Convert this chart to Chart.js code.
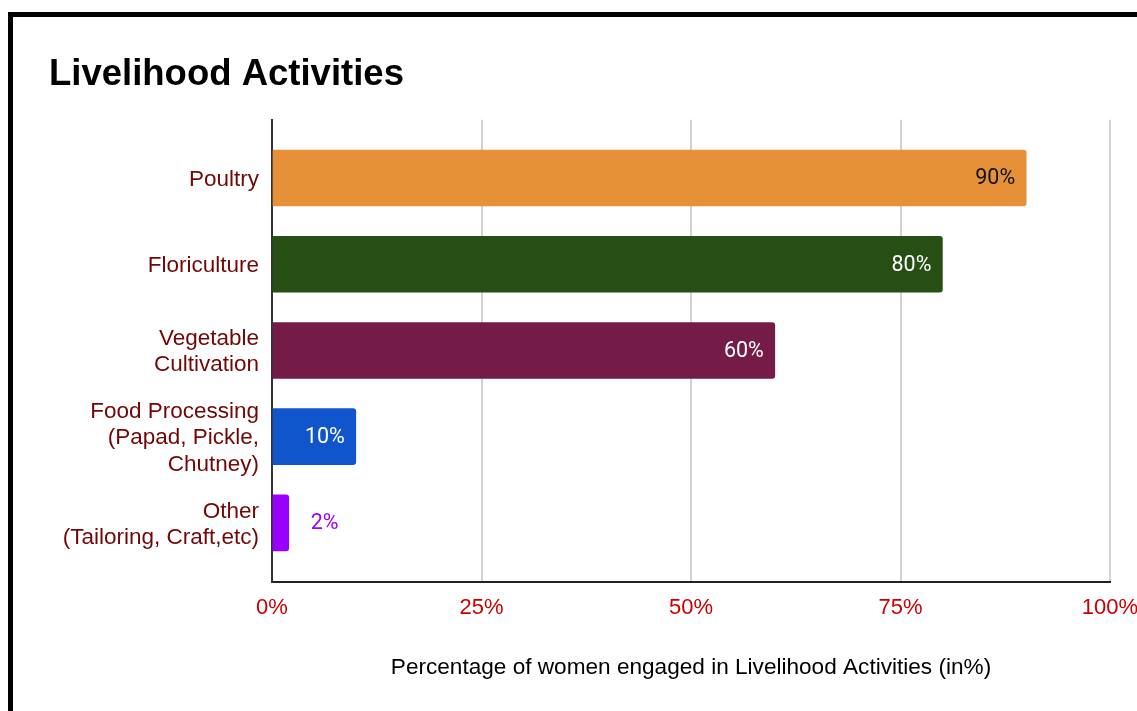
<!DOCTYPE html>
<html>
<head>
<meta charset="utf-8">
<title>Livelihood Activities</title>
<script src="https://cdn.jsdelivr.net/npm/chart.js@4.4.1/dist/chart.umd.min.js"></script>
<style>
  html, body { margin: 0; padding: 0; background: #ffffff; overflow: hidden; }
  #frame {
    position: absolute; left: 8px; top: 12px; right: 0; bottom: 0;
    border-top: 5px solid #000000; border-left: 5px solid #000000;
  }
  #chart { position: absolute; left: 0; top: 0; }
</style>
</head>
<body>
<div id="frame"></div>
<canvas id="chart" width="1137" height="711"></canvas>
<script>
// Activities, top to bottom
const categories = [
  ['Poultry'],
  ['Floriculture'],
  ['Vegetable', 'Cultivation'],
  ['Food Processing', '(Papad, Pickle,', 'Chutney)'],
  ['Other', '(Tailoring, Craft,etc)']
];
// Share of women engaged in each activity (%)
const shares = [90, 80, 60, 10, 2];
const valueLabels = ['90%', '80%', '60%', '10%', '2%'];
const percentTicks = [0, 25, 50, 75, 100];

const barColors = ['#e69138', '#274e13', '#741b47', '#1155cc', '#9900ff'];
const labelColors = ['#111111', '#ffffff', '#ffffff', '#ffffff', '#9900ff'];

// Value labels: inside the bar end when they fit, otherwise just past it
const valueLabelPlugin = {
  id: 'valueLabels',
  afterDatasetsDraw(chart) {
    const ctx = chart.ctx;
    const meta = chart.getDatasetMeta(0);
    ctx.save();
    ctx.font = '21.5px Roboto, "Open Sans", sans-serif';
    ctx.textBaseline = 'middle';
    meta.data.forEach((bar, i) => {
      const text = valueLabels[i];
      const w = ctx.measureText(text).width;
      const barLen = bar.x - bar.base;
      ctx.fillStyle = labelColors[i];
      if (barLen > w + 24) {
        ctx.textAlign = 'right';
        ctx.fillText(text, bar.x - 11, bar.y + 1);
      } else {
        ctx.textAlign = 'left';
        ctx.fillText(text, bar.x + 22, bar.y + 1);
      }
    });
    ctx.restore();
  }
};

new Chart(document.getElementById('chart'), {
  type: 'bar',
  data: {
    datasets: [{
      data: shares.map((v, i) => ({ x: v, y: i })),
      backgroundColor: barColors,
      borderWidth: 0,
      borderRadius: 3,
      barThickness: 56
    }]
  },
  options: {
    indexAxis: 'y',
    responsive: false,
    animation: false,
    layout: { padding: { left: 49, right: 27, top: 0, bottom: 0 } },
    plugins: {
      legend: { display: false },
      tooltip: { enabled: false },
      title: {
        display: true,
        text: 'Livelihood Activities',
        align: 'start',
        color: '#000000',
        font: { family: '"Liberation Sans", Arial, sans-serif', size: 36.5, weight: 'bold', lineHeight: 1.2 },
        padding: { top: 53, bottom: 23 }
      }
    },
    scales: {
      x: {
        type: 'linear',
        min: 0,
        max: 100,
        afterBuildTicks(scale) {
          scale.ticks = percentTicks.map(v => ({ value: v }));
        },
        afterFit(scale) {
          scale.height = 711 - 582;
          scale.paddingLeft = 0;
          scale.paddingRight = 0;
        },
        grid: { color: '#d2d2d2', lineWidth: 2, drawTicks: false },
        border: { display: true, color: '#222222', width: 2 },
        ticks: {
          color: '#cc0000',
          padding: 13,
          maxRotation: 0,
          font: { family: '"Liberation Sans", Arial, sans-serif', size: 22, lineHeight: 1.2 },
          callback: v => v + '%'
        },
        title: {
          display: true,
          text: 'Percentage of women engaged in Livelihood Activities (in%)',
          color: '#000000',
          font: { family: '"Liberation Sans", Arial, sans-serif', size: 22.6, lineHeight: 1.2 },
          padding: { top: 0, bottom: 30 }
        }
      },
      y: {
        type: 'linear',
        reverse: true,
        offset: false,
        min: -0.675,
        max: 4.685,
        afterBuildTicks(scale) {
          scale.ticks = categories.map((_, i) => ({ value: i }));
        },
        afterFit(scale) { scale.width = 272 - 49; },
        grid: { display: false, drawTicks: false },
        border: { display: true, color: '#333333', width: 2 },
        ticks: {
          color: '#700808',
          padding: 13,
          labelOffset: 1.5,
          font: { family: '"Liberation Sans", Arial, sans-serif', size: 22.5, lineHeight: 1.16 },
          callback: (v) => categories[v] || ''
        }
      }
    }
  },
  plugins: [valueLabelPlugin]
});
</script>
</body>
</html>
